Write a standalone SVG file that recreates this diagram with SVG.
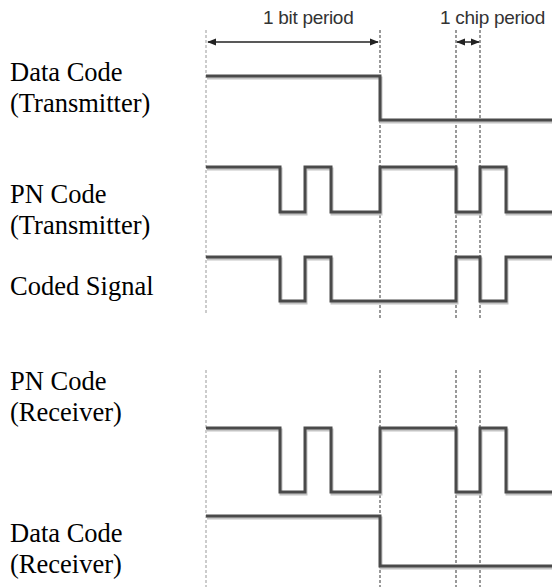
<svg xmlns="http://www.w3.org/2000/svg" width="552" height="587" viewBox="0 0 552 587">
<style>
.lbl{font-family:"Liberation Serif","Times New Roman",serif;font-size:26.5px;fill:#000}
.per{font-family:"Liberation Sans",Arial,sans-serif;font-size:19px;fill:#333;letter-spacing:-0.3px}
.dash{stroke:#999;stroke-width:2;stroke-dasharray:3 2;fill:none}
.dashl{stroke:#ccc;stroke-width:2;stroke-dasharray:3 2;fill:none}
.sh{fill:none;stroke:#c4c4c4;stroke-width:3}
.wf{fill:none;stroke:#4a4a4a;stroke-width:3}
.arr{stroke:#222;stroke-width:1.5;fill:none}
</style>
<defs>
<marker id="ah" viewBox="0 0 10 10" refX="9" refY="5" markerWidth="6" markerHeight="6" orient="auto-start-reverse">
<path d="M0,1 L10,5 L0,9 z" fill="#222"/>
</marker>
<path id="w1" d="M206,76 H380 V120 H552"/>
<path id="w2" d="M206,167 H280 V212 H305 V167 H331 V212 H380 V167 H456 V212 H480 V167 H506 V212 H552"/>
<path id="w3" d="M206,257 H280 V301 H305 V257 H331 V301 H456 V257 H480 V301 H506 V257 H552"/>
<path id="w4" d="M206,428 H280 V492 H305 V428 H331 V492 H380 V428 H456 V492 H480 V428 H506 V492 H552"/>
<path id="w5" d="M206,516 H380 V566 H552"/>
</defs>
<g id="gridlines">
<line class="dashl" x1="206" y1="30" x2="206" y2="315"/>
<line class="dash" x1="380" y1="30" x2="380" y2="320"/>
<line class="dash" x1="456" y1="30" x2="456" y2="320"/>
<line class="dash" x1="480" y1="30" x2="480" y2="320"/>
<line class="dashl" x1="206" y1="370" x2="206" y2="587"/>
<line class="dash" x1="380" y1="370" x2="380" y2="587"/>
<line class="dash" x1="456" y1="370" x2="456" y2="587"/>
<line class="dash" x1="480" y1="370" x2="480" y2="587"/>
</g>
<g id="periods">
<text class="per" x="263" y="24">1 bit period</text>
<line class="arr" x1="208" y1="42" x2="378" y2="42" marker-start="url(#ah)" marker-end="url(#ah)"/>
<text class="per" x="440" y="24">1 chip period</text>
<line class="arr" x1="457" y1="42" x2="479" y2="42" marker-start="url(#ah)" marker-end="url(#ah)"/>
</g>
<g id="data-tx">
<text class="lbl" x="10" y="81">Data Code</text>
<text class="lbl" x="10" y="112">(Transmitter)</text>
<use href="#w1" class="sh" transform="translate(1,2)"/>
<use href="#w1" class="wf"/>
</g>
<g id="pn-tx">
<text class="lbl" x="10" y="203">PN Code</text>
<text class="lbl" x="10" y="234">(Transmitter)</text>
<use href="#w2" class="sh" transform="translate(1,2)"/>
<use href="#w2" class="wf"/>
</g>
<g id="coded">
<text class="lbl" x="10" y="295">Coded Signal</text>
<use href="#w3" class="sh" transform="translate(1,2)"/>
<use href="#w3" class="wf"/>
</g>
<g id="pn-rx">
<text class="lbl" x="10" y="390">PN Code</text>
<text class="lbl" x="10" y="421">(Receiver)</text>
<use href="#w4" class="sh" transform="translate(1,2)"/>
<use href="#w4" class="wf"/>
</g>
<g id="data-rx">
<text class="lbl" x="10" y="542">Data Code</text>
<text class="lbl" x="10" y="573">(Receiver)</text>
<use href="#w5" class="sh" transform="translate(1,2)"/>
<use href="#w5" class="wf"/>
</g>
</svg>
